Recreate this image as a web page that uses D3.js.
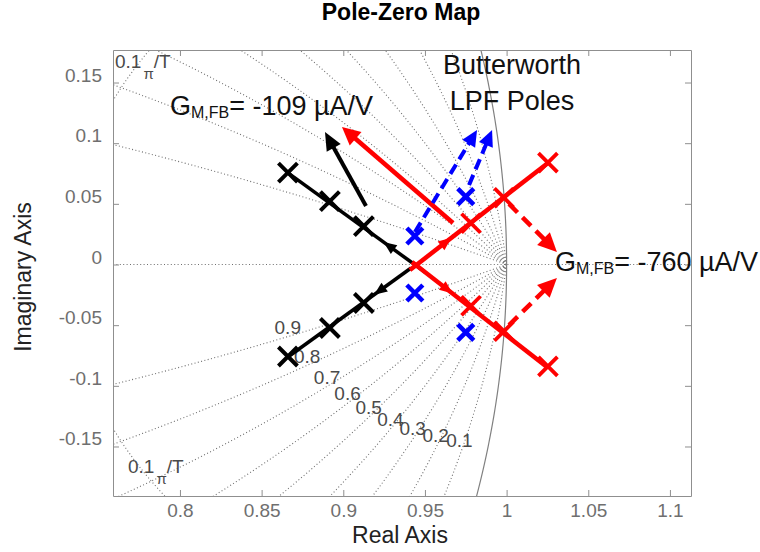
<!DOCTYPE html>
<html lang="en">
<head>
<meta charset="utf-8">
<title>Pole-Zero Map</title>
<script src="https://d3js.org/d3.v7.min.js"></script>
<style>
    body { margin: 0; background: #fff; }
    svg text { font-family: "Liberation Sans", Arial, sans-serif; }
</style>
</head>
<body>
<script type="text/javascript">
'use strict';

// tick values
var xTicks = [0.8, 0.85, 0.9, 0.95, 1, 1.05, 1.1];
var yTicks = [0.15, 0.1, 0.05, 0, -0.05, -0.1, -0.15];

// z-plane grid: damping ratios and natural frequencies (in pi/T)
var zetaValues = [0.1, 0.2, 0.3, 0.4, 0.5, 0.6, 0.7, 0.8, 0.9];
var wnValues = [0.1, 0.2, 0.3, 0.4, 0.5, 0.6, 0.7, 0.8, 0.9, 1];

// poles [real, imag]
var blackPoles = [[0.8661, 0.0758], [0.8918, 0.0523], [0.9126, 0.0317],
                  [0.9126, -0.0317], [0.8918, -0.0523], [0.8661, -0.0758]];
var redPoles = [[0.9782, 0.034], [0.9984, 0.055], [1.0253, 0.084],
                [0.9782, -0.034], [0.9984, -0.055], [1.0253, -0.084]];
var bluePoles = [[0.9438, 0.0235], [0.975, 0.056],
                 [0.9438, -0.0235], [0.975, -0.056]];

// root locus branches [start, end]
var blackLocus = [[[0.950, -0.0062], [0.8655, 0.0762]],
                  [[0.9415, -0.0029], [0.8661, -0.0762]]];
var redLocus = [[[0.9408, -0.0045], [1.0253, 0.0837]],
                [[0.9421, 0.0021], [1.0247, -0.0845]]];

// annotation arrows [from, to]
var blackArrows = [[[0.9139, 0.0482], [0.8888, 0.1092]]];
var redArrows = [[[0.9672, 0.0342], [0.8992, 0.1133]]];
var redDashArrows = [[[1.0015, 0.0499], [1.0308, 0.0103]],
                     [[1.0015, -0.0499], [1.0308, -0.0111]]];
var blueDashArrows = [[[0.9439, 0.0268], [0.9819, 0.1108]],
                      [[0.977, 0.0655], [0.9911, 0.1108]]];

var w = 760;
var h = 552;

var xScale = d3.scaleLinear().domain([0.759, 1.1129]).range([113, 691]);
var yScale = d3.scaleLinear().domain([-0.1908, 0.1768]).range([496, 50]);

var svg = d3.select("body")
            .append("svg")
            .attr("width", w)
            .attr("height", h);

svg.append("defs").append("clipPath")
    .attr("id", "plotclip")
    .append("rect")
    .attr("x", 113).attr("y", 50)
    .attr("width", 578).attr("height", 446);

var line = d3.line()
    .x(function(d) { return xScale(d[0]); })
    .y(function(d) { return yScale(d[1]); });

// ---- grid ----
var grid = svg.append("g").attr("clip-path", "url(#plotclip)");

function zetaCurve(zeta, sign) {
    var a = Math.sqrt(1 - zeta * zeta);
    return d3.range(0, Math.PI + 1e-9, Math.PI / 2000).map(function(t) {
        var r = Math.exp(-zeta * t);
        return [r * Math.cos(a * t), sign * r * Math.sin(a * t)];
    });
}
function wnCurve(wn, sign) {
    var t = wn * Math.PI;
    return d3.range(0, 1.0001, 0.002).map(function(zeta) {
        var a = Math.sqrt(1 - zeta * zeta);
        var r = Math.exp(-zeta * t);
        return [r * Math.cos(a * t), sign * r * Math.sin(a * t)];
    });
}

var gridCurves = [];
zetaValues.forEach(function(z) {
    gridCurves.push(zetaCurve(z, 1));
    gridCurves.push(zetaCurve(z, -1));
});
wnValues.forEach(function(wn) {
    gridCurves.push(wnCurve(wn, 1));
    gridCurves.push(wnCurve(wn, -1));
});
gridCurves.push([[xScale.domain()[0], 0], [xScale.domain()[1], 0]]);

grid.selectAll("path.grid")
    .data(gridCurves)
    .enter()
    .append("path")
    .attr("class", "grid")
    .attr("d", line)
    .attr("fill", "none")
    .attr("stroke", "#6e6e6e")
    .attr("stroke-width", 1.1)
    .attr("stroke-dasharray", "1,2.4");

// unit circle
grid.append("path")
    .attr("d", line(d3.range(0, 2 * Math.PI + 0.001, Math.PI / 1000).map(function(t) {
        return [Math.cos(t), Math.sin(t)];
    })))
    .attr("fill", "none")
    .attr("stroke", "#808080")
    .attr("stroke-width", 1.2);

// damping ratio labels
var labelW = 0.148;
svg.selectAll("text.zeta")
    .data(zetaValues)
    .enter()
    .append("text")
    .attr("class", "zeta")
    .attr("x", function(d) {
        var a = Math.sqrt(1 - d * d), r = Math.exp(-d * labelW);
        return xScale(r * Math.cos(a * labelW)) - 5 - 8 * d;
    })
    .attr("y", function(d) {
        var a = Math.sqrt(1 - d * d), r = Math.exp(-d * labelW);
        return yScale(-r * Math.sin(a * labelW)) - Math.max(0, d - 0.4) * 11 + 7;
    })
    .attr("text-anchor", "middle")
    .attr("font-size", "19px")
    .attr("fill", "#4a4a4a")
    .text(function(d) { return d; });

// natural frequency labels
var wnLabelPos = [[0.7602, 0.162], [0.7682, -0.1718]];
wnLabelPos.forEach(function(p) {
    var t = svg.append("text")
        .attr("x", xScale(p[0]))
        .attr("y", yScale(p[1]))
        .attr("font-size", "19px")
        .attr("fill", "#4a4a4a");
    t.append("tspan").text("0.1");
    t.append("tspan").attr("dx", 2).attr("dy", 11).attr("font-size", "15px").text("\u03c0");
    t.append("tspan").attr("dy", -11).text("/T");
});

// ---- root locus ----
function pt(d) { return [xScale(d[0]), yScale(d[1])]; }

function headPoints(tip, dir, len, half) {
    var bx = tip[0] - dir[0] * len, by = tip[1] - dir[1] * len;
    return [tip, [bx - dir[1] * half, by + dir[0] * half], [bx + dir[1] * half, by - dir[0] * half]];
}

function drawLocus(data, color, width) {
    data.forEach(function(seg) {
        var p0 = pt(seg[0]), p1 = pt(seg[1]);
        svg.append("line")
            .attr("x1", p0[0]).attr("y1", p0[1])
            .attr("x2", p1[0]).attr("y2", p1[1])
            .attr("stroke", color)
            .attr("stroke-width", width);
        var dx = p1[0] - p0[0], dy = p1[1] - p0[1], n = Math.sqrt(dx * dx + dy * dy);
        var dir = [dx / n, dy / n];
        var tip = [p0[0] + dx * 0.3, p0[1] + dy * 0.3];
        svg.append("polygon")
            .attr("points", headPoints(tip, dir, 13, 5.5).join(" "))
            .attr("fill", color);
    });
}

function drawArrows(data, color, width, dash, len, half) {
    data.forEach(function(seg) {
        var p0 = pt(seg[0]), p1 = pt(seg[1]);
        var dx = p1[0] - p0[0], dy = p1[1] - p0[1], n = Math.sqrt(dx * dx + dy * dy);
        var dir = [dx / n, dy / n];
        svg.append("line")
            .attr("x1", p0[0]).attr("y1", p0[1])
            .attr("x2", p1[0] - dir[0] * (len - 2)).attr("y2", p1[1] - dir[1] * (len - 2))
            .attr("stroke", color)
            .attr("stroke-width", width)
            .attr("stroke-dasharray", dash);
        svg.append("polygon")
            .attr("points", headPoints(p1, dir, len, half).join(" "))
            .attr("fill", color);
    });
}

drawLocus(blackLocus, "#000", 3.5);
drawLocus(redLocus, "#ff0000", 4.5);

drawArrows(blackArrows, "#000", 4, null, 18, 8);
drawArrows(redArrows, "#ff0000", 4.5, null, 18, 9);
drawArrows(redDashArrows, "#ff0000", 4.5, "12,7", 19, 9);
drawArrows(blueDashArrows, "#0000ff", 4, "11,6", 16, 7.5);

function drawPoles(data, color, half, width) {
    svg.selectAll(null)
        .data(data)
        .enter()
        .append("path")
        .attr("d", "M" + (-half) + "," + (-half) + "L" + half + "," + half +
                   "M" + (-half) + "," + half + "L" + half + "," + (-half))
        .attr("transform", function(d) {
            return "translate(" + xScale(d[0]) + "," + yScale(d[1]) + ")";
        })
        .attr("stroke", color)
        .attr("stroke-width", width)
        .attr("fill", "none");
}
drawPoles(blackPoles, "#000", 9.5, 4);
drawPoles(redPoles, "#ff0000", 9.5, 3.8);
drawPoles(bluePoles, "#0000ff", 8, 4.5);

// ---- axes ----
var axisColor = "#8f8f8f";
var tickColor = "#6f6f6f";

function styleAxis(g) {
    g.selectAll(".domain").attr("stroke", axisColor);
    g.selectAll(".tick line").attr("stroke", axisColor);
    g.selectAll(".tick text")
        .attr("fill", tickColor)
        .attr("font-size", "19px")
        .attr("font-family", "Liberation Sans, Arial, sans-serif");
}

var fmt = function(d) { return String(d); };

svg.append("g")
    .attr("transform", "translate(0,496)")
    .call(d3.axisBottom(xScale).tickValues(xTicks).tickFormat(fmt)
        .tickSizeInner(-6).tickSizeOuter(0).tickPadding(7.5))
    .call(styleAxis);
svg.append("g")
    .attr("transform", "translate(0,50)")
    .call(d3.axisTop(xScale).tickValues(xTicks).tickFormat("")
        .tickSizeInner(-6).tickSizeOuter(0))
    .call(styleAxis);
svg.append("g")
    .attr("transform", "translate(113,0)")
    .call(d3.axisLeft(yScale).tickValues(yTicks).tickFormat(fmt)
        .tickSizeInner(-6).tickSizeOuter(0).tickPadding(11))
    .call(styleAxis)
    .selectAll(".tick text").attr("dy", "-1.5");
svg.append("g")
    .attr("transform", "translate(691,0)")
    .call(d3.axisRight(yScale).tickValues(yTicks).tickFormat("")
        .tickSizeInner(-6).tickSizeOuter(0))
    .call(styleAxis);

// ---- titles ----
svg.append("text")
    .attr("x", 401).attr("y", 20)
    .attr("text-anchor", "middle")
    .attr("font-size", "23px")
    .attr("font-weight", "bold")
    .attr("fill", "#000")
    .text("Pole-Zero Map");

svg.append("text")
    .attr("x", 400).attr("y", 543)
    .attr("text-anchor", "middle")
    .attr("font-size", "23px")
    .attr("fill", "#222")
    .text("Real Axis");

svg.append("text")
    .attr("transform", "translate(31,277) rotate(-90)")
    .attr("text-anchor", "middle")
    .attr("font-size", "23px")
    .attr("fill", "#222")
    .text("Imaginary Axis");

// ---- annotations ----
function gmLabel(pos, value) {
    var t = svg.append("text")
        .attr("x", xScale(pos[0]))
        .attr("y", yScale(pos[1]))
        .attr("font-family", "Open Sans, sans-serif")
        .attr("font-size", "27px")
        .attr("fill", "#111");
    t.append("tspan").text("G");
    t.append("tspan").attr("dy", 3).attr("font-size", "16px").text("M,FB");
    t.append("tspan").attr("dy", -3).text("= " + value + " \u00b5A/V");
}
gmLabel([0.7939, 0.1232], "-109");
gmLabel([1.0296, -0.0054], "-760");

var bwLines = ["Butterworth", "LPF Poles"];
var bwPos = [[1.0033, 0.157], [1.0033, 0.1273]];
bwLines.forEach(function(s, i) {
    svg.append("text")
        .attr("x", xScale(bwPos[i][0]))
        .attr("y", yScale(bwPos[i][1]))
        .attr("text-anchor", "middle")
        .attr("font-family", "Open Sans, sans-serif")
        .attr("font-size", "27px")
        .attr("fill", "#111")
        .text(s);
});
</script>
</body>
</html>
